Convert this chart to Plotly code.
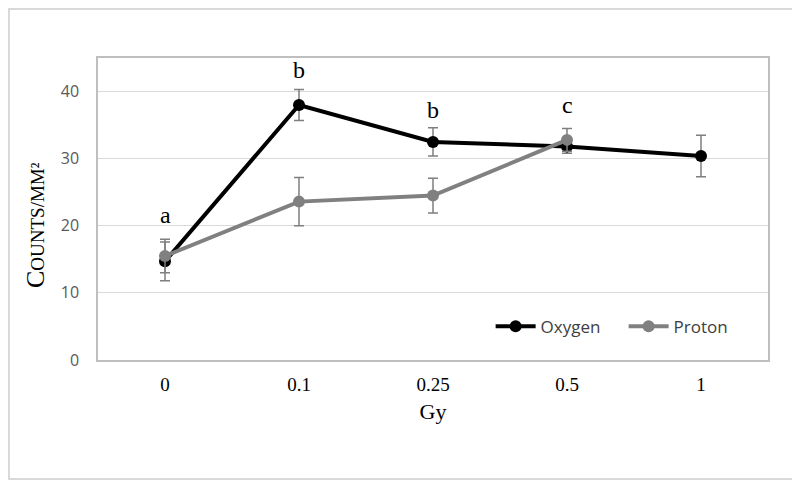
import plotly.graph_objects as go

categories = ["0", "0.1", "0.25", "0.5", "1"]
oxygen = [14.7, 38.0, 32.5, 31.8, 30.4]
oxygen_err = [2.9, 2.3, 2.1, 1.0, 3.1]
proton = [15.5, 23.6, 24.5, 32.8]
proton_err = [2.5, 3.6, 2.6, 1.7]
letters = ["a", "b", "b", "c"]
letter_y = [21.6, 43.2, 37.3, 38.0]

fig = go.Figure()
fig.add_trace(go.Scatter(
    x=categories, y=oxygen, name="Oxygen", mode="lines+markers",
    line=dict(color="#000000", width=4),
    marker=dict(color="#000000", size=12),
    error_y=dict(type="data", array=oxygen_err, color="#7f7f7f", thickness=1.5, width=5),
))
fig.add_trace(go.Scatter(
    x=categories[:len(proton)], y=proton, name="Proton", mode="lines+markers",
    line=dict(color="#808080", width=4),
    marker=dict(color="#808080", size=12),
    error_y=dict(type="data", array=proton_err, color="#7f7f7f", thickness=1.5, width=5),
))

for i, (lab, ly) in enumerate(zip(letters, letter_y)):
    fig.add_annotation(x=i, y=ly, xref="x", yref="y", text=lab, showarrow=False,
                       font=dict(family="Liberation Serif", size=24, color="#000000"))

# page has an 8px body margin, so the figure is 792x472
W, H = 792, 472
L, R, T, B = 90, 32, 50, 120
pw, ph = W - L - R, H - T - B
fig.add_shape(type="rect", xref="paper", yref="paper",
              x0=-(L - 1) / pw, x1=1 + (R - 1) / pw,
              y0=-(B - 1) / ph, y1=1 + (T - 1) / ph,
              line=dict(color="#d9d9d9", width=2), layer="below")

fig.add_annotation(
    xref="paper", yref="paper", x=(27 - L) / pw, y=(H - B - 217) / ph,
    xanchor="center", yanchor="middle", textangle=-90, showarrow=False,
    text="C<span style='font-size:19px'>OUNTS/MM²</span>",
    font=dict(family="Liberation Serif", size=26, color="#000000"),
)

fig.update_layout(
    width=W, height=H,
    margin=dict(l=L, r=R, t=T, b=B),
    paper_bgcolor="white", plot_bgcolor="white",
    showlegend=True,
    legend=dict(orientation="h", x=0.586, y=0.11, xanchor="left", yanchor="middle",
                font=dict(family="Open Sans", size=17, color="#404040"),
                bgcolor="rgba(0,0,0,0)", itemwidth=40,
                entrywidth=78, entrywidthmode="pixels"),
    xaxis=dict(
        type="category", range=[-0.5, 4.5],
        showline=True, mirror=True, linecolor="#bfbfbf", linewidth=1.5,
        showgrid=False, ticks="", ticklabelstandoff=6,
        tickfont=dict(family="Liberation Serif", size=19, color="#000000"),
        title=dict(text="Gy", standoff=10,
                   font=dict(family="Liberation Serif", size=22, color="#000000")),
    ),
    yaxis=dict(
        range=[0, 45], tickvals=[0, 10, 20, 30, 40],
        showline=True, mirror=True, linecolor="#bfbfbf", linewidth=1.5,
        showgrid=True, gridcolor="#d9d9d9", gridwidth=1,
        zeroline=False, ticks="", ticklabelstandoff=14,
        tickfont=dict(family="Open Sans", size=16, color="#595959"),
    ),
)

fig.write_html("out.html")
